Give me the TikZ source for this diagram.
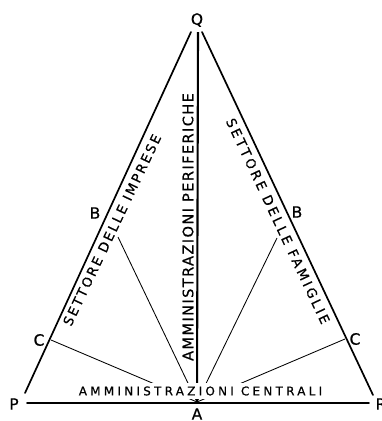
\documentclass[tikz,border=0pt]{standalone}
\usepackage{fontspec}
\newfontfamily\labfont[FakeBold=0.6]{DejaVu Sans}
\begin{document}
\begin{tikzpicture}[x=1pt,y=-1pt,
  side/.style={line width=1.7pt,line cap=round},
  axis/.style={line width=2.1pt},
  ray/.style={line width=0.85pt},
  vlabel/.style={font=\labfont\fontsize{15.5}{16}\selectfont,inner sep=0pt},
  sector/.style={inner sep=0pt}]
\clip (0,0) rectangle (382,421);
\useasboundingbox (0,0) rectangle (382,421);
% points
\coordinate (Qa) at (191,32);
\coordinate (Qb) at (202,32);
\coordinate (Qc) at (198,32);
\coordinate (Pt) at (25,393);
\coordinate (Rt) at (373,395);
\coordinate (P0) at (27,403);
\coordinate (R0) at (369,403);
\coordinate (A) at (197,402);
\coordinate (bL) at (118,237);
\coordinate (bR) at (277,238);
\coordinate (cL) at (51,340);
\coordinate (cR) at (345,339);
% rays
\draw[ray] (bL) -- (A);
\draw[ray] (bR) -- (A);
\draw[ray] (cL) -- (A);
\draw[ray] (cR) -- (A);
\draw[axis] (Qc) -- (A);
% bottom label covering the rays
\node[sector,fill=white,inner xsep=2pt,inner ysep=3pt] (central) at (200.5,391)
  {\labfont\fontsize{12}{13}\selectfont\addfontfeature{LetterSpace=27}AMMINISTRAZIONI CENTRALI};
% sides
\draw[side] (Pt) -- (Qa);
\draw[side] (Qb) -- (Rt);
\draw[side] (P0) -- (R0);
% sector texts
\node[sector,rotate=90] (perif) at (188,227)
  {\labfont\fontsize{14.5}{15}\selectfont\addfontfeature{LetterSpace=10}AMMINISTRAZIONI PERIFERICHE};
\node[sector,rotate=64.5] (impr) at (112,230)
  {\labfont\fontsize{13.3}{14}\selectfont\addfontfeature{LetterSpace=17}SETTORE DELLE IMPRESE};
\node[sector,rotate=-64.8] (fam) at (278,221)
  {\labfont\fontsize{13.3}{14}\selectfont\addfontfeature{LetterSpace=21}SETTORE DELLE FAMIGLIE};
% vertex labels
\node[vlabel] (Q) at (197,20) {Q};
\node[vlabel] (P) at (14,404) {P};
\node[vlabel] (R) at (381,404) {R};
\node[vlabel] (Alab) at (197,414) {A};
\node[vlabel] (BL) at (95,213) {B};
\node[vlabel] (BR) at (297,212) {B};
\node[vlabel] (CL) at (39,340) {C};
\node[vlabel] (CR) at (355,339) {C};
\end{tikzpicture}
\end{document}
